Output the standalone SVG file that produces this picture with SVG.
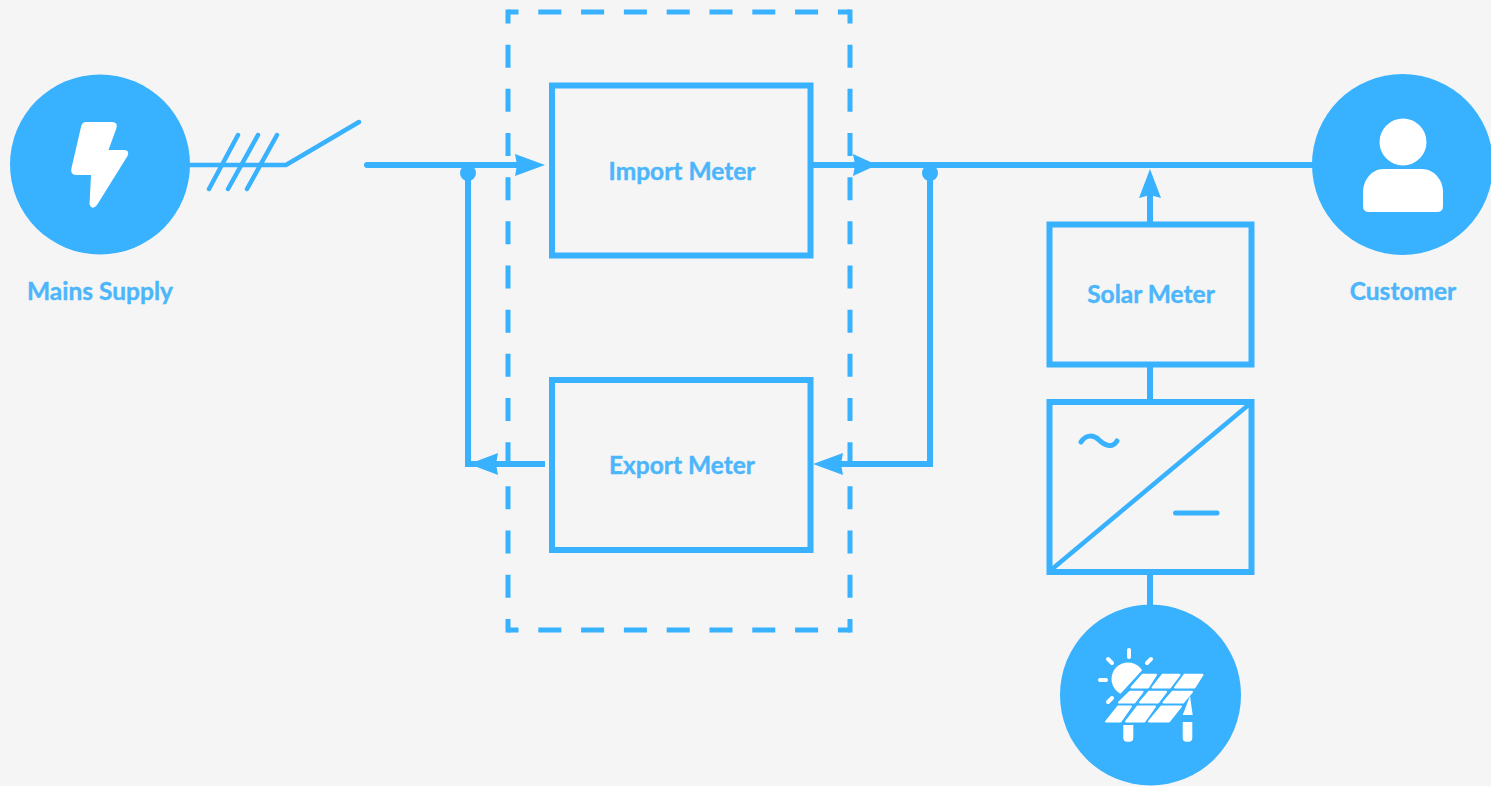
<svg xmlns="http://www.w3.org/2000/svg" width="1491" height="786" viewBox="0 0 1491 786">
<style>
.l{fill:none;stroke:#38b1ff;stroke-width:6}
.t{fill:none;stroke:#38b1ff;stroke-width:4.5;stroke-linecap:round}
.v{fill:none;stroke:#38b1ff;stroke-width:5;stroke-linecap:round}
.m{fill:none;stroke:#38b1ff;stroke-width:6;stroke-linecap:round}
.g{fill:none;stroke:#38b1ff;stroke-width:4.5}
.h{fill:none;stroke:#38b1ff;stroke-width:5;stroke-dasharray:23 19.8;stroke-dashoffset:12.5}
.u{fill:none;stroke:#38b1ff;stroke-width:5;stroke-dasharray:23 21.17;stroke-dashoffset:9}
.f{fill:#38b1ff}
.w{fill:#fff}
.r{fill:none;stroke:#fff;stroke-width:4;stroke-linecap:round}
.p{fill:#fff;stroke:#fff;stroke-width:2;stroke-linejoin:round}
.x{font-family:"Lato","Liberation Sans",sans-serif;font-weight:700;font-size:24.5px;fill:#4db6fb;stroke:#4db6fb;stroke-width:.4;text-anchor:middle}
</style>
<rect width="1491" height="786" fill="#f5f5f5"/>
<g id="connectors">
<path class="t" d="M190 165H286L359 122"/>
<path class="t" d="M209 189L238 135M228 189L258 135M247 189L277 135"/>
<path class="m" d="M367 165H520"/>
<path class="f" d="M515 154L545 165L515 176L517 165Z"/>
<path class="l" d="M468 172V464H490"/>
<circle class="f" cx="468" cy="173" r="8"/>
<path class="f" d="M469 464L498 453L496 464L498 475Z"/>
<path class="l" d="M490 464H545"/>
<path class="l" d="M812 165H1315"/>
<path class="f" d="M853 154L877 165L853 176L855 165Z"/>
<circle class="f" cx="930" cy="173" r="8"/>
<path class="l" d="M930 172V464H838"/>
<path class="f" d="M813 464L843 453L841 464L843 475Z"/>
<path class="l" d="M1150 224V190"/>
<path class="f" d="M1150 169L1161 198L1150 195L1139 198Z"/>
<path class="l" d="M1150 365V402"/>
<path class="l" d="M1150 572V606"/>
</g>
<g id="grid-meter-boundary">
<path class="h" d="M508 12H850"/>
<path class="u" d="M508 9.5V632.5"/>
<path class="u" d="M850 9.5V632.5"/>
<path class="h" d="M508 630H850"/>
</g>
<g id="mains-supply">
<circle class="f" cx="100" cy="164.5" r="90"/>
<path class="w" d="M86 122H112Q118 122 116.500 128L108.500 150H124Q130 150 127.500 156L97 205Q92 211 89.500 204L91 175H76Q70 175 71.500 168L81 127Q82 122 86 122Z"/>
<text class="x" x="100" y="300">Mains Supply</text>
</g>
<g id="import-meter">
<rect class="l" x="552" y="85.5" width="258.5" height="170"/>
<text class="x" x="682" y="179.5">Import Meter</text>
</g>
<g id="export-meter">
<rect class="l" x="552" y="380" width="258.5" height="170"/>
<text class="x" x="682" y="474">Export Meter</text>
</g>
<g id="solar-meter">
<rect class="l" x="1049.5" y="224.5" width="202" height="140"/>
<text class="x" x="1151" y="303">Solar Meter</text>
</g>
<g id="inverter">
<rect class="l" x="1049.5" y="402" width="202" height="170"/>
<path class="g" d="M1051 570L1252 402"/>
<path class="v" d="M1081 442C1086 434 1094 435 1099 440S1112 449 1117 441"/>
<path class="v" d="M1175.5 513H1217"/>
</g>
<g id="customer">
<circle class="f" cx="1402.5" cy="164.5" r="90.5"/>
<circle class="w" cx="1403" cy="142" r="23.5"/>
<path class="w" d="M1383 169H1422C1434 169 1443 180 1443 192V206Q1443 212 1437 212H1369Q1363 212 1363 206V192C1363 180 1372 169 1383 169Z"/>
<text class="x" x="1403" y="300">Customer</text>
</g>
<g id="solar-panel">
<circle class="f" cx="1150.5" cy="695" r="90.5"/>
<circle class="w" cx="1128" cy="679" r="16.5"/>
<path class="f" d="M1146 666L1112 703V730H1160V666Z"/>
<path class="r" d="M1129 650V657M1108 659L1112 663M1147 663L1151 659M1100 680H1106M1108 702L1112 698"/>
<path class="p" d="M1142.5 674.8H1156L1148 687.5H1131.5ZM1162.5 674.8H1179.5L1170 687.5H1152.5ZM1184.5 674.8H1202.5L1194.5 687.5H1175ZM1130 691.8H1142.5L1134.5 702.5H1119ZM1149 691.8H1166L1158 702.5H1140ZM1172.5 691.8H1192L1183 702.5H1163.5ZM1118 706.5H1131L1120.5 721.5H1106ZM1137.5 706.5H1155L1144.5 721.5H1126ZM1161.5 706.5H1181L1169 721.5H1149Z"/>
<path class="w" d="M1190 696L1192.7 715H1182.7Z"/>
<path class="w" d="M1182.7 722H1192.3V738Q1192.3 741.7 1188.5 741.7H1186.5Q1182.7 741.7 1182.7 738ZM1123.3 725H1133.3V738Q1133.3 741.7 1129.5 741.7H1127Q1123.3 741.7 1123.3 738Z"/>
</g>
</svg>
